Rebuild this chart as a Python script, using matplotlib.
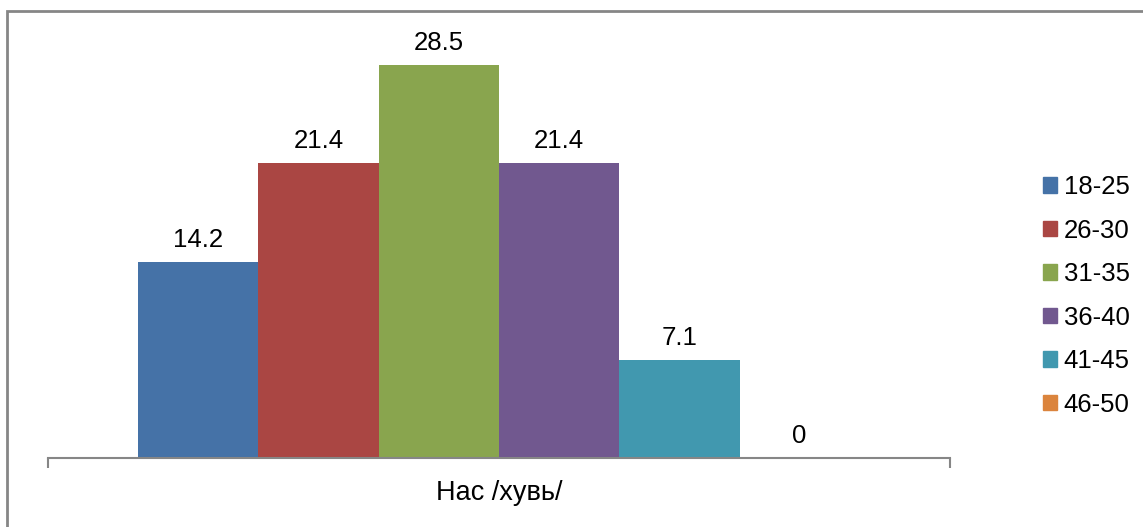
import matplotlib.pyplot as plt
import matplotlib.patches as mpatches

plt.rcParams['font.family'] = ['Liberation Sans', 'DejaVu Sans']

groups = ['18-25', '26-30', '31-35', '36-40', '41-45', '46-50']
values = [14.2, 21.4, 28.5, 21.4, 7.1, 0]
labels = ['14.2', '21.4', '28.5', '21.4', '7.1', '0']
colors = ['#4572A7', '#AA4643', '#89A54E', '#71588F', '#4198AF', '#DB843D']
category = 'Нас /хувь/'

W, H = 1143, 527
fig = plt.figure(figsize=(W / 100, H / 100), dpi=100)
ax = fig.add_axes([48 / W, 1 - 458 / H, (950 - 48) / W, (458 - 44) / H])

# outer chart border (only left and top edges show in the crop)
fig.patches.append(mpatches.Rectangle((7 / W, -0.2), 1.5, 1.2 - 11 / H,
                                      transform=fig.transFigure, fill=False,
                                      edgecolor='#868686', linewidth=2))

x = list(range(len(values)))
bars = ax.bar(x, values, width=1.0, color=colors)
for xi, v, lab in zip(x, values, labels):
    ax.annotate(lab, (xi, v), xytext=(0, 7), textcoords='offset points',
                ha='center', va='bottom', fontsize=18.5)

ax.set_xlim(-1.25, 6.25)
ax.set_ylim(0, 30)
for s in ['top', 'right', 'left']:
    ax.spines[s].set_visible(False)
ax.spines['bottom'].set_color('#868686')
ax.spines['bottom'].set_linewidth(1.5)
ax.set_yticks([])
ax.set_xticks([-1.25, 6.25])
ax.set_xticklabels(['', ''])
ax.tick_params(axis='x', direction='out', length=7, width=1.5, color='#868686')
ax.set_xlabel(category, fontsize=19.5, labelpad=5)

handles = [mpatches.Patch(color=c) for c in colors]
fig.legend(handles, groups, loc='center left', bbox_to_anchor=(1020 / W, 1 - 296 / H),
           frameon=False, fontsize=18.5, handlelength=0.55, handleheight=0.55,
           handletextpad=0.25, labelspacing=0.76)

fig.savefig('out.png', dpi=100)
